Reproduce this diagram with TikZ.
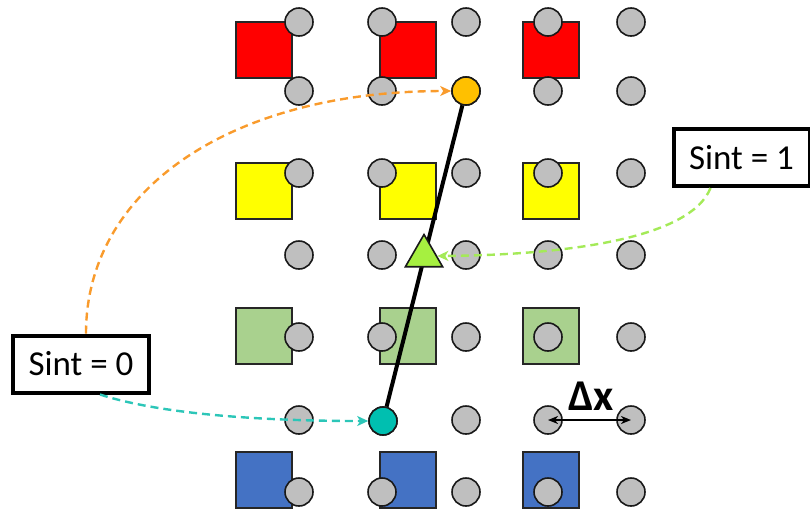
\documentclass[tikz,border=0pt]{standalone}
\usepackage{fontspec}
\setmainfont{Carlito}
\usetikzlibrary{arrows.meta,shapes.geometric}
\definecolor{cellred}{HTML}{FF0000}
\definecolor{cellyellow}{HTML}{FFFF00}
\definecolor{cellgreen}{HTML}{A9D18E}
\definecolor{cellblue}{HTML}{4472C4}
\definecolor{ptgray}{HTML}{BFBFBF}
\definecolor{ptorange}{HTML}{FFC000}
\definecolor{ptteal}{HTML}{00BFB0}
\definecolor{ptlime}{HTML}{A6F040}
\definecolor{arrorange}{HTML}{F99B2C}
\definecolor{arrteal}{HTML}{2CC6B8}
\definecolor{arrlime}{HTML}{A4EA58}
\tikzset{
  cell/.style={draw=black!85, line width=1.4pt, minimum size=56pt, inner sep=0pt},
  pt/.style={circle, draw=black!90, line width=1.6pt, minimum size=28pt, inner sep=0pt, fill=ptgray},
  label box/.style={draw=black, line width=4pt, minimum width=136pt, minimum height=57pt,
    inner sep=0pt, font=\fontsize{35}{40}\selectfont, fill=white},
  guide/.style={dashed, line width=2.4pt, dash pattern=on 8pt off 5pt,
    -{Stealth[length=11pt,width=10pt,inset=3pt]}},
}
\begin{document}
\begin{tikzpicture}[x=1pt,y=-1pt]
\useasboundingbox (0,0) rectangle (810,512);

% coloured cells: three columns, four rows
\foreach \cx/\c in {264/a,408/b,551/c}{
  \node[cell, fill=cellred]    (red\c)    at (\cx,50)  {};
  \node[cell, fill=cellyellow] (yellow\c) at (\cx,191) {};
  \node[cell, fill=cellgreen]  (green\c)  at (\cx,336) {};
  \node[cell, fill=cellblue]   (blue\c)   at (\cx,480) {};
}

% special points (drawn first so the segment can join them)
\node[pt, fill=ptorange] (top) at (466,91) {};
\node[pt, fill=ptteal]   (bot) at (383,421) {};
\draw[line width=4pt] (top) -- (bot);

% regular grid of points
\foreach \r/\y in {1/22,2/91,3/173,4/255,5/337,6/420,7/492}{
  \foreach \k/\x in {1/299,2/382,3/466,4/548,5/631}{
    \ifnum\r=2 \ifnum\k=3 \else \node[pt] (p\r\k) at (\x,\y) {};\fi
    \else\ifnum\r=6 \ifnum\k=2 \else \node[pt] (p\r\k) at (\x,\y) {};\fi
    \else \node[pt] (p\r\k) at (\x,\y) {};\fi\fi
  }
}
\node[pt, fill=ptorange] at (top) {};
\node[pt, fill=ptteal]   at (bot) {};

% interpolated point on the segment
\node[regular polygon, regular polygon sides=3, minimum size=43pt, inner sep=0pt,
  draw=black!90, line width=1.6pt, fill=ptlime] (mid) at (424,256) {};

% labels
\node[label box] (s0) at (81,364) {Sint = 0};
\node[label box] (s1) at (741.5,157.5) {Sint = 1};

% guide arrows
\draw[guide, arrorange] ([xshift=5pt]s0.north) .. controls (86,190) and (230,91) .. (top.west);
\draw[guide, arrteal] ([xshift=19pt]s0.south) .. controls (160,414) and (260,421) .. (bot.west);
\draw[guide, arrlime] ([xshift=-31pt]s1.south) .. controls (690,240) and (560,255) .. (mid.east);

% grid spacing
\draw[line width=2pt, {Stealth[length=10pt,width=8pt,inset=3pt]}-{Stealth[length=10pt,width=8pt,inset=3pt]}]
  (p64.center) -- (p65.center);
\node[font=\bfseries\fontsize{44}{48}\selectfont, inner sep=0pt] (dx) at (591,396) {Δx};
\end{tikzpicture}
\end{document}
